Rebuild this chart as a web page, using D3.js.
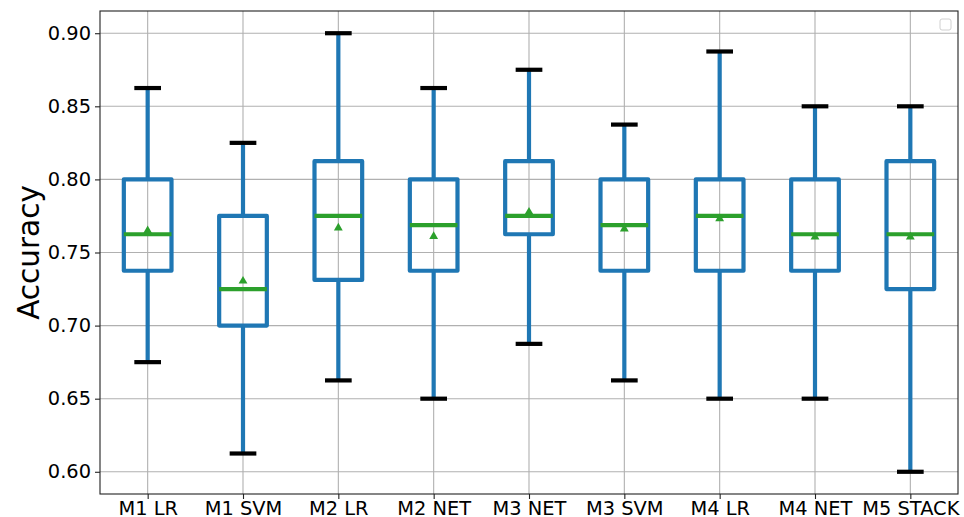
<!DOCTYPE html>
<html>
<head>
<meta charset="utf-8">
<script src="https://cdn.jsdelivr.net/npm/d3@7"></script>
<style>
  html, body { margin: 0; padding: 0; background: #fff; }
  svg { display: block; }
</style>
</head>
<body>
<svg id="chart" width="964" height="517"></svg>
<script>
const categories = ["M1 LR", "M1 SVM", "M2 LR", "M2 NET", "M3 NET", "M3 SVM", "M4 LR", "M4 NET", "M5 STACK"];
const whiskerLow  = [0.675, 0.6125, 0.6625, 0.65, 0.6875, 0.6625, 0.65, 0.65, 0.60];
const q1          = [0.7375, 0.70, 0.73125, 0.7375, 0.7625, 0.7375, 0.7375, 0.7375, 0.725];
const medians     = [0.7625, 0.725, 0.775, 0.76875, 0.775, 0.76875, 0.775, 0.7625, 0.7625];
const q3          = [0.80, 0.775, 0.8125, 0.80, 0.8125, 0.80, 0.80, 0.80, 0.8125];
const whiskerHigh = [0.8625, 0.825, 0.90, 0.8625, 0.875, 0.8375, 0.8875, 0.85, 0.85];
const means       = [0.765, 0.7305, 0.7668, 0.761, 0.7777, 0.7661, 0.7732, 0.7607, 0.7607];
const yTicks      = [0.60, 0.65, 0.70, 0.75, 0.80, 0.85, 0.90];

const svg = d3.select("#chart");
const margin = {left: 100, right: 6, top: 11, bottom: 23};
const W = 964, H = 517;
const x0 = margin.left, x1 = W - margin.right, y0 = H - margin.bottom, y1 = margin.top;

const x = d3.scaleLinear().domain([0.5, categories.length + 0.5]).range([x0, x1]);
const y = d3.scaleLinear().domain([0.5848, 0.9152]).range([y0, y1]);
const font = "DejaVu Sans, sans-serif";
const blue = "#1f77b4", green = "#2ca02c";
const boxW = 0.5, capW = 0.28;

const data = categories.map((c, i) => ({
  c, i: i + 1, lo: whiskerLow[i], q1: q1[i], med: medians[i], q3: q3[i], hi: whiskerHigh[i], mean: means[i]
}));

// grid
const grid = svg.append("g");
grid.selectAll("line.h").data(yTicks).join("line")
  .attr("x1", x0).attr("x2", x1).attr("y1", d => y(d)).attr("y2", d => y(d))
  .attr("stroke", "#b0b0b0").attr("stroke-width", 1.1);
grid.selectAll("line.v").data(data).join("line")
  .attr("x1", d => x(d.i)).attr("x2", d => x(d.i)).attr("y1", y0).attr("y2", y1)
  .attr("stroke", "#b0b0b0").attr("stroke-width", 1.1);

// boxes
const g = svg.append("g");
const lw = 4.2;
g.selectAll("line.wl").data(data).join("line")
  .attr("x1", d => x(d.i)).attr("x2", d => x(d.i)).attr("y1", d => y(d.q1)).attr("y2", d => y(d.lo))
  .attr("stroke", blue).attr("stroke-width", lw);
g.selectAll("line.wh").data(data).join("line")
  .attr("x1", d => x(d.i)).attr("x2", d => x(d.i)).attr("y1", d => y(d.q3)).attr("y2", d => y(d.hi))
  .attr("stroke", blue).attr("stroke-width", lw);
g.selectAll("rect.box").data(data).join("rect")
  .attr("x", d => x(d.i - boxW / 2)).attr("width", d => x(d.i + boxW / 2) - x(d.i - boxW / 2))
  .attr("y", d => y(d.q3)).attr("height", d => y(d.q1) - y(d.q3))
  .attr("fill", "none").attr("stroke", blue).attr("stroke-width", lw).attr("stroke-linejoin", "round");
g.selectAll("line.capl").data(data).join("line")
  .attr("x1", d => x(d.i - capW / 2)).attr("x2", d => x(d.i + capW / 2)).attr("y1", d => y(d.lo)).attr("y2", d => y(d.lo))
  .attr("stroke", "#000").attr("stroke-width", lw);
g.selectAll("line.caph").data(data).join("line")
  .attr("x1", d => x(d.i - capW / 2)).attr("x2", d => x(d.i + capW / 2)).attr("y1", d => y(d.hi)).attr("y2", d => y(d.hi))
  .attr("stroke", "#000").attr("stroke-width", lw);
g.selectAll("line.med").data(data).join("line")
  .attr("x1", d => x(d.i - boxW / 2)).attr("x2", d => x(d.i + boxW / 2)).attr("y1", d => y(d.med)).attr("y2", d => y(d.med))
  .attr("stroke", green).attr("stroke-width", lw);
g.selectAll("path.mean").data(data).join("path")
  .attr("transform", d => `translate(${x(d.i)},${y(d.mean)})`)
  .attr("d", d3.symbol(d3.symbolTriangle, 34)())
  .attr("fill", green);

// spines
svg.append("rect").attr("x", x0).attr("y", y1).attr("width", x1 - x0).attr("height", y0 - y1)
  .attr("fill", "none").attr("stroke", "#222").attr("stroke-width", 1.1);

// y axis
const yAxis = d3.axisLeft(y).tickValues(yTicks).tickFormat(d3.format(".2f")).tickSize(5).tickPadding(4);
const ya = svg.append("g").attr("transform", `translate(${x0},0)`).call(yAxis);
ya.select(".domain").remove();
ya.selectAll("text").attr("font-family", font).attr("font-size", 19.4).attr("fill", "#000");
ya.selectAll("line").attr("stroke", "#222").attr("stroke-width", 1.1);

// x axis
const xAxis = d3.axisBottom(x).tickValues(data.map(d => d.i)).tickFormat(i => categories[i - 1]).tickSize(5).tickPadding(2);
const xa = svg.append("g").attr("transform", `translate(0,${y0})`).call(xAxis);
xa.select(".domain").remove();
xa.selectAll("text").attr("font-family", font).attr("font-size", 19.4).attr("fill", "#000");
xa.selectAll("line").attr("stroke", "#222").attr("stroke-width", 1.1);

// y label
svg.append("text").attr("transform", `translate(39,${(y0 + y1) / 2}) rotate(-90)`)
  .attr("text-anchor", "middle").attr("font-family", font).attr("font-size", 29.5).attr("fill", "#000")
  .text("Accuracy");

// empty legend box
svg.append("rect").attr("x", x1 - 18).attr("y", 19).attr("width", 11).attr("height", 11)
  .attr("rx", 2).attr("fill", "#fff").attr("stroke", "#d0d0d0").attr("stroke-width", 1);
</script>
</body>
</html>
